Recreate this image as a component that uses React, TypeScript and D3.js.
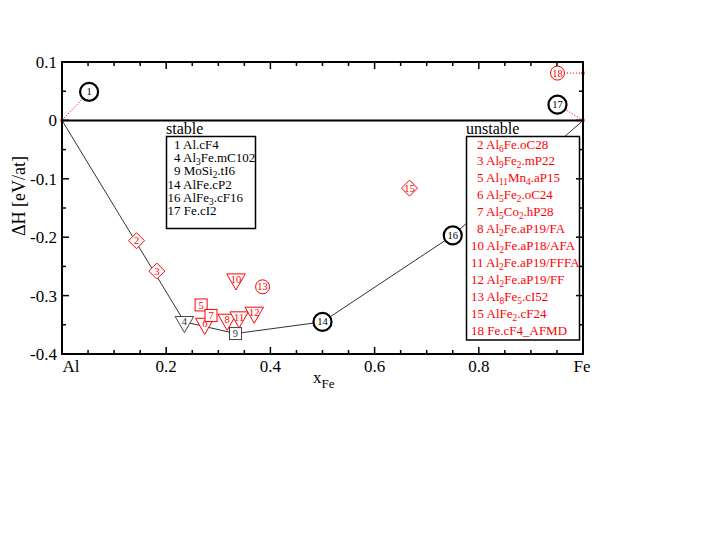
import React from 'react';
import * as d3 from 'd3';

const xTickValues = [0, 0.2, 0.4, 0.6, 0.8, 1];
const xTickLabels = ['Al', '0.2', '0.4', '0.6', '0.8', 'Fe'];
const yTickValues = [0.1, 0, -0.1, -0.2, -0.3, -0.4];
const yTickLabels = ['0.1', '0', '-0.1', '-0.2', '-0.3', '-0.4'];

const hullX = [0, 0.235, 0.333, 0.5, 0.75, 1];
const hullY = [0, -0.345, -0.365, -0.345, -0.197, 0];

const stableIds = [1, 4, 9, 14, 16, 17];
const stableX = [0, 0.235, 0.333, 0.5, 0.75, 1];
const stableY = [0, -0.345, -0.365, -0.345, -0.197, 0];
const stableShape = ['circle', 'triangle', 'square', 'circle', 'circle', 'circle'];
const stableNames = ['Al.cF4', 'Al_3Fe.mC102', 'MoSi_2.tI6', 'AlFe.cP2', 'AlFe_3.cF16', 'Fe.cI2'];

const unstableIds = [2, 3, 5, 6, 7, 8, 10, 11, 12, 13, 15, 18];
const unstableX = [0.143, 0.182, 0.267, 0.274, 0.286, 0.317, 0.334, 0.34, 0.369, 0.385, 0.667, 1];
const unstableY = [-0.206, -0.258, -0.316, -0.348, -0.334, -0.341, -0.272, -0.337, -0.329, -0.285, -0.116, 0.081];
const unstableShape = ['diamond', 'diamond', 'square', 'triangle', 'square', 'triangle', 'triangle', 'triangle', 'triangle', 'circle', 'diamond', 'circle'];
const unstableNames = [
  'Al_6Fe.oC28', 'Al_9Fe_2.mP22', 'Al_11Mn_4.aP15', 'Al_5Fe_2.oC24', 'Al_5Co_2.hP28',
  'Al_2Fe.aP19/FA', 'Al_2Fe.aP18/AFA', 'Al_2Fe.aP19/FFFA', 'Al_2Fe.aP19/FF',
  'Al_8Fe_5.cI52', 'AlFe_2.cF24', 'Fe.cF4_AFMD',
];

// labels of end-member structures are drawn displaced from their points
const displacedIds = [1, 17, 18];
const displacedX = [0.052, 0.951, 0.951];
const displacedY = [0.049, 0.027, 0.081];

const FONT = '"Liberation Serif", "DejaVu Serif", serif';
const RED = '#ff0000';

const x = d3.scaleLinear().domain([0, 1]).range([62, 583]);
const y = d3.scaleLinear().domain([-0.4, 0.1]).range([354, 62]);

function rich(s: string, fs: number) {
  const parts = s.split(/_(\d+)/);
  const out: any[] = [];
  let down = false;
  parts.forEach((p, i) => {
    if (p === '' && i % 2 === 0) return;
    if (i % 2 === 1) {
      out.push(<tspan key={i} dy={3} fontSize={fs * 0.72}>{p}</tspan>);
      down = true;
    } else {
      out.push(<tspan key={i} dy={down ? -3 : 0}>{p}</tspan>);
      down = false;
    }
  });
  return out;
}

function Marker({ shape, cx, cy, color, sw, big, label, textColor }: any) {
  let el: any;
  if (shape === 'circle') {
    el = <circle cx={cx} cy={cy} r={big ? 9 : 7} fill="white" stroke={color} strokeWidth={sw} />;
  } else if (shape === 'triangle') {
    const R = 10.7, h = R * Math.sin(Math.PI / 3);
    el = <polygon points={`${cx - h},${cy - R / 2} ${cx + h},${cy - R / 2} ${cx},${cy + R}`} fill="white" stroke={color} strokeWidth={sw} />;
  } else if (shape === 'square') {
    el = <rect x={cx - 6} y={cy - 6} width={12} height={12} fill="white" stroke={color} strokeWidth={sw} />;
  } else {
    const d = 8;
    el = <polygon points={`${cx},${cy - d} ${cx + d},${cy} ${cx},${cy + d} ${cx - d},${cy}`} fill="white" stroke={color} strokeWidth={sw} />;
  }
  return (
    <g>
      {el}
      <text x={cx} y={cy + 3.6} textAnchor="middle" fontSize={10.5} fill={textColor} fontFamily={FONT}>{label}</text>
    </g>
  );
}

export default function App() {
  const xMinor = d3.range(0, 1.0001, 0.05);
  const yMinor = d3.range(-0.4, 0.1001, 0.05);
  const hull = d3.line<number>().x((_, i) => x(hullX[i])).y((_, i) => y(hullY[i]))(hullX);

  const stableRow = d3.scaleLinear().domain([0, stableIds.length - 1]).range([149, 215]);
  const unstableRow = d3.scaleLinear().domain([0, unstableIds.length - 1]).range([148.5, 335]);

  const pos = (id: number, px: number, py: number) => {
    const k = displacedIds.indexOf(id);
    if (k >= 0) return [x(displacedX[k]), y(displacedY[k])];
    return [x(px), y(py)];
  };

  return (
    <svg width={717} height={554} style={{ position: 'absolute', left: 0, top: 0, background: 'white' }} fontFamily={FONT}>
      <rect x={0} y={0} width={717} height={554} fill="white" />
      {/* zero line */}
      <line x1={x(0)} x2={x(1)} y1={y(0)} y2={y(0)} stroke="black" strokeWidth={2} />
      {/* hull */}
      <path d={hull || ''} fill="none" stroke="#333" strokeWidth={1} />

      {/* dotted connectors to displaced labels */}
      {displacedIds.map((id, k) => {
        const si = stableIds.indexOf(id);
        const ui = unstableIds.indexOf(id);
        const px = si >= 0 ? stableX[si] : unstableX[ui];
        const py = si >= 0 ? stableY[si] : unstableY[ui];
        return (
          <g key={'d' + id}>
            <line x1={x(px)} y1={y(py)} x2={x(displacedX[k])} y2={y(displacedY[k])} stroke={RED} strokeWidth={1} strokeDasharray="1.2,1.8" />
            <rect x={x(px) - 1.5} y={y(py) - 1.5} width={3} height={3} fill={RED} />
          </g>
        );
      })}

      {/* legends */}
      <text x={166} y={134} fontSize={16} fill="black">stable</text>
      <rect x={166.5} y={136.5} width={89} height={92} fill="white" stroke="black" strokeWidth={1.5} />
      {stableIds.map((id, i) => (
        <text key={'sl' + id} x={167.5 + (id < 10 ? 6.5 : 0)} y={stableRow(i)} fontSize={13} fill="black">
          <tspan>{id + ' '}</tspan>
          {rich(stableNames[i], 13)}
        </text>
      ))}

      <text x={466} y={134} fontSize={16} fill="black">unstable</text>
      <rect x={466.5} y={136.5} width={113} height={203.5} fill="white" stroke="black" strokeWidth={1.5} />
      {unstableIds.map((id, i) => (
        <text key={'ul' + id} x={471 + (id < 10 ? 6 : 0)} y={unstableRow(i)} fontSize={13} fill={RED}>
          <tspan>{id + ' '}</tspan>
          {rich(unstableNames[i], 13)}
        </text>
      ))}

      {/* stable markers */}
      {stableIds.map((id, i) => {
        const [cx, cy] = pos(id, stableX[i], stableY[i]);
        const circ = stableShape[i] === 'circle';
        return (
          <Marker key={'s' + id} shape={stableShape[i]} cx={cx} cy={cy} color={circ ? 'black' : '#444'} sw={circ ? 2.2 : 1} big={circ} label={id} textColor={circ ? 'black' : '#333'} />
        );
      })}
      {/* unstable markers */}
      {unstableIds.map((id, i) => {
        const [cx, cy] = pos(id, unstableX[i], unstableY[i]);
        return <Marker key={'u' + id} shape={unstableShape[i]} cx={cx} cy={cy} color={RED} sw={1} big={false} label={id} textColor={RED} />;
      })}

      {/* frame */}
      <rect x={x(0)} y={y(0.1)} width={x(1) - x(0)} height={y(-0.4) - y(0.1)} fill="none" stroke="black" strokeWidth={2} />
      {xMinor.map((v, i) => {
        const major = i % 4 === 0;
        const L = major ? 7 : 4;
        return (
          <g key={'xt' + i}>
            <line x1={x(v)} x2={x(v)} y1={y(-0.4)} y2={y(-0.4) - L} stroke="black" strokeWidth={1.5} />
            <line x1={x(v)} x2={x(v)} y1={y(0.1)} y2={y(0.1) + L} stroke="black" strokeWidth={1.5} />
          </g>
        );
      })}
      {yMinor.map((v, i) => {
        const major = i % 2 === 0;
        const L = major ? 7 : 4;
        return (
          <g key={'yt' + i}>
            <line x1={x(0)} x2={x(0) + L} y1={y(v)} y2={y(v)} stroke="black" strokeWidth={1.5} />
            <line x1={x(1)} x2={x(1) - L} y1={y(v)} y2={y(v)} stroke="black" strokeWidth={1.5} />
          </g>
        );
      })}
      {xTickValues.map((v, i) => (
        <text key={'xl' + i} x={i === 0 ? x(v) + 9 : i === xTickValues.length - 1 ? x(v) - 1 : x(v)} y={372} textAnchor="middle" fontSize={17} fill="black">{xTickLabels[i]}</text>
      ))}
      {yTickValues.map((v, i) => (
        <text key={'yl' + i} x={57} y={y(v) + 6} textAnchor="end" fontSize={17} fill="black">{yTickLabels[i]}</text>
      ))}
      <text transform="translate(25,196) rotate(-90)" textAnchor="middle" fontSize={18} fill="black">ΔH [eV/at]</text>
      <text x={313} y={383} fontSize={17} fill="black">x<tspan dy={5} fontSize={13}>Fe</tspan></text>
    </svg>
  );
}
